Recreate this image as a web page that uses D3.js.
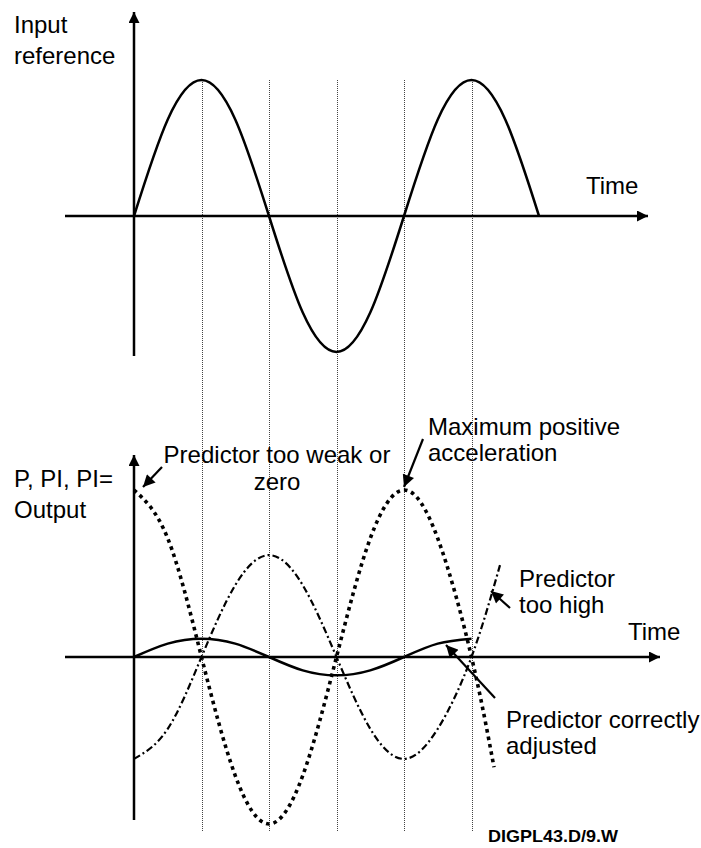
<!DOCTYPE html>
<html>
<head>
<meta charset="utf-8">
<script src="https://cdn.jsdelivr.net/npm/d3@7"></script>
<style>
  html, body { margin: 0; padding: 0; background: #fff; }
  svg { display: block; }
  text { font-family: "Liberation Sans", Arial, sans-serif; fill: #000; }
</style>
</head>
<body>
<svg id="chart" width="701" height="848"></svg>
<script>
// Phase of the input signal, in degrees
const phase = [0, 45, 90, 135, 180, 225, 270, 315, 360, 405, 450, 495, 540];

// Input reference (upper diagram), normalised amplitude
const inputRef = [0, 0.71, 1, 0.71, 0, -0.71, -1, -0.71, 0, 0.71, 1, 0.71, 0];

// Lower diagram: controller contributions
const outPhase = [0, 45, 90, 135, 180, 225, 270, 315, 360, 405, 450];
const outputCorrect = [0, 0.08, 0.11, 0.08, 0, -0.08, -0.11, -0.08, 0, 0.08, 0.11];          // predictor correctly adjusted
const weakPhase = [0, 45, 90, 135, 180, 225, 270, 315, 360, 405, 450, 480];
const outputWeak = [1, 0.71, 0, -0.71, -1, -0.71, 0, 0.71, 1, 0.71, 0, -0.66];              // predictor too weak or zero
const highPhase = [0, 45, 90, 135, 180, 225, 270, 315, 360, 405, 450, 488];
const outputHigh = [-0.61, -0.43, 0, 0.43, 0.61, 0.43, 0, -0.43, -0.61, -0.43, 0, 0.55];   // predictor too high

// Vertical guides at every quarter period
const guidePhase = [90, 180, 270, 360, 450];

// Texts
const topYLabel = ["Input", "reference"];
const botYLabel = ["P, PI, PI=", "Output"];
const timeLabel = "Time";
const noteWeak = ["Predictor too weak or", "zero"];
const noteAccel = ["Maximum positive", "acceleration"];
const noteHigh = ["Predictor", "too high"];
const noteCorrect = ["Predictor correctly", "adjusted"];
const drawingId = "DIGPL43.D/9.W";

const svg = d3.select("#chart");

const x = d3.scaleLinear().domain([0, 360]).range([134, 404]);
const yTop = d3.scaleLinear().domain([-1, 1]).range([352, 80]);
const yBot = d3.scaleLinear().domain([-1, 1]).range([824, 490]);

// Arrow heads
const defs = svg.append("defs");
defs.append("marker")
  .attr("id", "axisHead").attr("viewBox", "0 0 10 10")
  .attr("refX", 10).attr("refY", 5)
  .attr("markerWidth", 16).attr("markerHeight", 11)
  .attr("markerUnits", "userSpaceOnUse")
  .attr("orient", "auto")
  .append("path").attr("d", "M0,0 L10,5 L0,10 Z").attr("fill", "#000");
defs.append("marker")
  .attr("id", "noteHead").attr("viewBox", "0 0 10 10")
  .attr("refX", 10).attr("refY", 5)
  .attr("markerWidth", 16).attr("markerHeight", 12)
  .attr("markerUnits", "userSpaceOnUse")
  .attr("orient", "auto")
  .append("path").attr("d", "M0,0 L10,5 L0,10 Z").attr("fill", "#000");

// Vertical dotted guides
svg.append("g").selectAll("line").data(guidePhase).join("line")
  .attr("x1", d => Math.round(x(d)) + 0.5).attr("x2", d => Math.round(x(d)) + 0.5)
  .attr("y1", yTop(1)).attr("y2", 832)
  .attr("stroke", "#444").attr("stroke-width", 1)
  .attr("stroke-dasharray", "1,1");

// Axes
function axisLine(x1, y1, x2, y2) {
  svg.append("line")
    .attr("x1", x1).attr("y1", y1).attr("x2", x2).attr("y2", y2)
    .attr("stroke", "#000").attr("stroke-width", 2.5)
    .attr("marker-end", "url(#axisHead)");
}
axisLine(x(0), 356, x(0), 12);
axisLine(65, yTop(0), 648, yTop(0));
axisLine(x(0), 820, x(0), 455);
axisLine(65, yBot(0), 660, yBot(0));

const line = (ys) => d3.line().curve(d3.curveNatural).x(d => x(d[0])).y(d => ys(d[1]));

// Input reference
svg.append("path")
  .datum(d3.zip(phase, inputRef))
  .attr("d", line(yTop))
  .attr("fill", "none").attr("stroke", "#000").attr("stroke-width", 2.5);

// Predictor correctly adjusted
svg.append("path")
  .datum(d3.zip(outPhase, outputCorrect))
  .attr("d", line(yBot))
  .attr("fill", "none").attr("stroke", "#000").attr("stroke-width", 2.5);

// Predictor too high (dash-dot)
svg.append("path")
  .datum(d3.zip(highPhase, outputHigh))
  .attr("d", line(yBot))
  .attr("fill", "none").attr("stroke", "#000").attr("stroke-width", 2.2)
  .attr("stroke-dasharray", "7,3,2,3");

// Predictor too weak (heavy dots)
svg.append("path")
  .datum(d3.zip(weakPhase, outputWeak))
  .attr("d", line(yBot))
  .attr("fill", "none").attr("stroke", "#000").attr("stroke-width", 3.6)
  .attr("stroke-dasharray", "3.6,4");

// Text helpers
function lines(arr, tx, ty, anchor, size, dy) {
  const t = svg.append("text")
    .attr("x", tx).attr("y", ty)
    .attr("text-anchor", anchor)
    .style("font-size", size + "px");
  arr.forEach((s, i) => t.append("tspan").attr("x", tx).attr("dy", i ? dy : 0).text(s));
  return t;
}
function arrow(x1, y1, x2, y2) {
  svg.append("line")
    .attr("x1", x1).attr("y1", y1).attr("x2", x2).attr("y2", y2)
    .attr("stroke", "#000").attr("stroke-width", 2.2)
    .attr("marker-end", "url(#noteHead)");
}

lines(topYLabel, 14, 33, "start", 24, 31);
lines(botYLabel, 14, 487, "start", 24, 31);
svg.append("text").attr("x", 586).attr("y", 194).style("font-size", "24px").text(timeLabel);
svg.append("text").attr("x", 628).attr("y", 640).style("font-size", "24px").text(timeLabel);

lines(noteWeak, 277, 463, "middle", 24, 27);
arrow(162, 467, x(12), yBot(1) - 3);

lines(noteAccel, 428, 435, "start", 24, 26);
arrow(423, 439, x(360), yBot(1) - 3);

lines(noteHigh, 519, 587, "start", 24, 26);
arrow(510, 608, 491, 591);

lines(noteCorrect, 506, 728, "start", 24, 26);
arrow(495, 698, 446, 645);

svg.append("text").attr("x", 488).attr("y", 842)
  .style("font-size", "17px").style("font-weight", "bold")
  .attr("textLength", 130).attr("lengthAdjust", "spacingAndGlyphs")
  .text(drawingId);
</script>
</body>
</html>
